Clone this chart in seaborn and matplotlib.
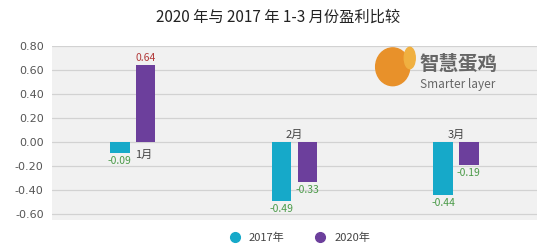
import matplotlib
matplotlib.use("Agg")
import matplotlib.pyplot as plt
import seaborn as sns
import pandas as pd
from matplotlib.patches import Ellipse
from matplotlib.lines import Line2D

months = ["1月", "2月", "3月"]
series = ["2017年", "2020年"]
v2017 = [-0.09, -0.49, -0.44]
v2020 = [0.64, -0.33, -0.19]
yticks = [0.80, 0.60, 0.40, 0.20, 0.00, -0.20, -0.40, -0.60]
title = "2020 年与 2017 年 1-3 月份盈利比较"

sns.set_theme(style="white")
plt.rcParams['font.family'] = ['Noto Sans CJK SC', 'DejaVu Sans']

df = pd.DataFrame({
    "month": months * 2,
    "year": [series[0]] * 3 + [series[1]] * 3,
    "value": v2017 + v2020,
})

colors = {"2017年": "#16a9c9", "2020年": "#6c3f9c"}

fig = plt.figure(figsize=(5.5, 2.52), dpi=100)
ax = fig.add_axes([0.0945, 0.127, 0.8815, 0.6905])
ax.set_facecolor("#f1f1f1")

sns.barplot(data=df, x="month", y="value", hue="year", palette=colors,
            width=0.32, gap=0.25, ax=ax, legend=False, saturation=1,
            linewidth=0, edgecolor="none")

ax.set_ylim(-0.65, 0.80)
ax.set_xlim(-0.5, 2.5)
ax.set_yticks(yticks)
ax.set_yticklabels([f"{t:.2f}" for t in yticks], fontsize=8, color="#555555",
                   family=['DejaVu Sans'])
ax.tick_params(axis="y", length=0, pad=6)
ax.set_xticks([])
ax.set_xlabel("")
ax.set_ylabel("")
for y in yticks:
    ax.axhline(y, color="#d2d2d2", lw=0.9, zorder=0.5)
for s in ax.spines.values():
    s.set_visible(False)

# value labels
for j, vals in enumerate([v2017, v2020]):
    off = -0.08 if j == 0 else 0.08
    for i, v in enumerate(vals):
        if v >= 0:
            ax.text(i + off, v + 0.02, f"{v:.2f}", ha="center", va="bottom",
                    fontsize=7.5, color="#b23a3a")
        else:
            ax.text(i + off, v - 0.03, f"{v:.2f}", ha="center", va="top",
                    fontsize=7.5, color="#4a9a48")

# category labels
for i, m in enumerate(months):
    if i == 0:
        ax.text(i + 0.07, -0.11, m, ha="center", va="center", fontsize=8, color="#444444")
    else:
        ax.text(i, 0.06, m, ha="center", va="center", fontsize=8, color="#444444")

# title
fig.text(0.506, 0.93, title, ha="center", va="center", fontsize=11, color="#222222")

# legend
handles = [Line2D([], [], marker="o", ls="", ms=7, color=colors[s]) for s in series]
fig.legend(handles, series, loc="center", bbox_to_anchor=(0.54, 0.055), ncol=2,
           frameon=False, fontsize=8, handletextpad=0.3, columnspacing=2.2,
           labelcolor="#444444")

# watermark logo
fig.patches.append(Ellipse((0.714, 0.735), 0.062, 0.15, transform=fig.transFigure,
                           color="#e8912a", zorder=5))
fig.patches.append(Ellipse((0.745, 0.77), 0.02, 0.085, transform=fig.transFigure,
                           color="#f0b040", zorder=5))
fig.text(0.762, 0.745, "智慧蛋鸡", fontsize=14, color="#666666", va="center", ha="left",
         fontweight="bold", zorder=6)
fig.text(0.764, 0.665, "Smarter layer", fontsize=8.5, color="#666666", va="center", ha="left",
         zorder=6)

fig.savefig("out.png", dpi=100, facecolor="white")
